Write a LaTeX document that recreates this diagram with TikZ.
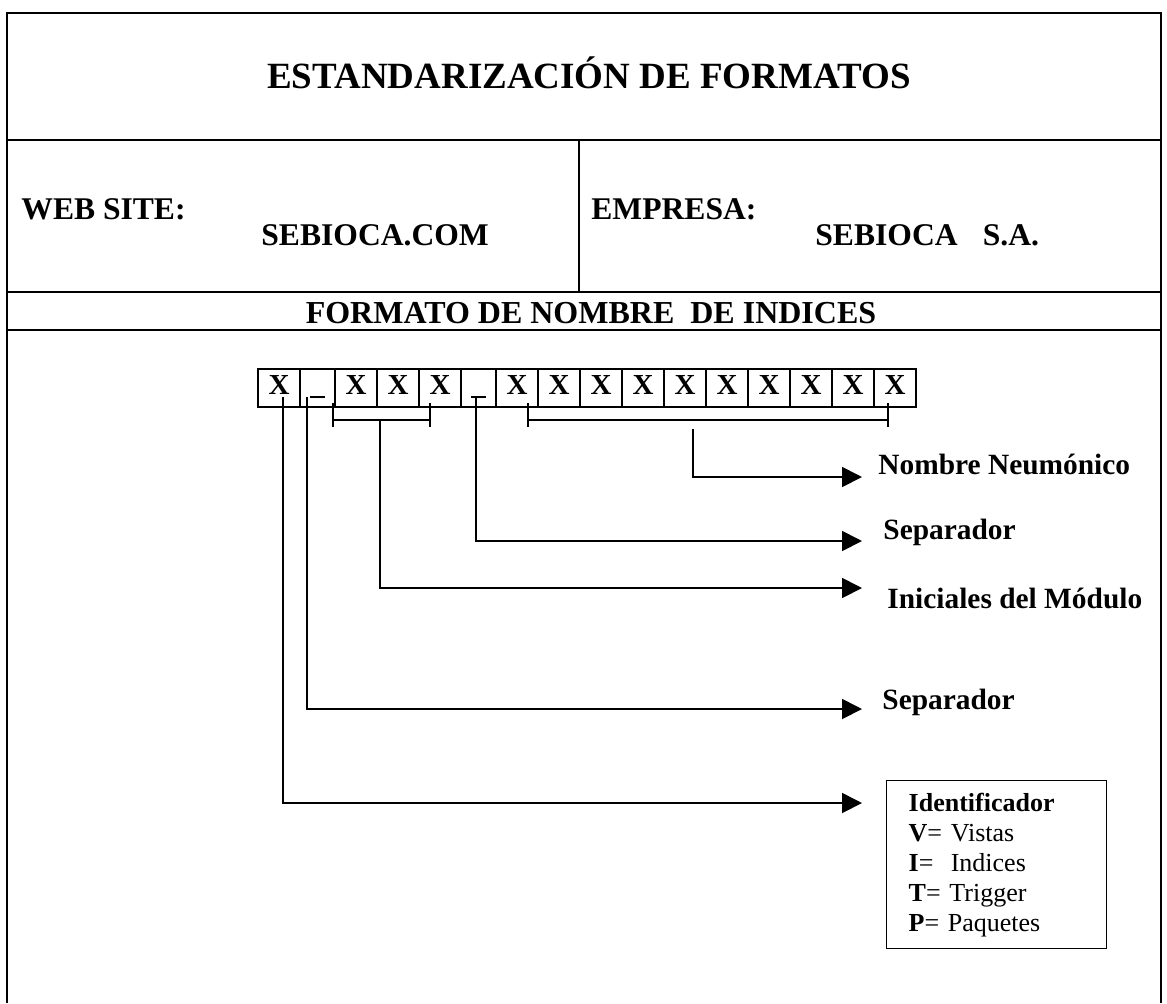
\documentclass[tikz,border=0pt]{standalone}
\usepackage{fontspec}
\setmainfont{Liberation Serif}
\usepackage{tikz}
\usetikzlibrary{positioning}
\usetikzlibrary{arrows.meta}
\tikzset {
  node distance={0pt},
  % lines of the form
  rule/.style={line width=0.7pt},
  % boxes of the index name
  slot/.style={draw, line width=0.6pt, minimum width=21pt, minimum height=19pt, inner sep=0pt, outer sep=0pt, text height=1.45ex, text depth=0pt, font=\fontsize{14.5}{16}\selectfont\bfseries},
  sepslot/.style={slot, minimum width=17.5pt},
  % brackets and connectors
  conn/.style={line width=0.9pt},
  arr/.style={conn, -{Triangle[length=10pt, width=10pt]}},
  % texts
  head/.style={inner sep=0pt, anchor=base, font=\fontsize{18.5}{22}\selectfont\bfseries},
  field/.style={inner sep=0pt, anchor=base west, font=\fontsize{15.8}{18}\selectfont\bfseries},
  band/.style={inner sep=0pt, anchor=base, font=\fontsize{16}{19}\selectfont\bfseries},
  part/.style={inner sep=0pt, anchor=base west, font=\fontsize{14.7}{17}\selectfont\bfseries},
  legend/.style={draw, line width=0.7pt, anchor=north west, text width=88pt, inner xsep=11pt, minimum height=84pt, align=left, font=\fontsize{13}{15}\selectfont},
}

\begin{document}
\begin{tikzpicture}[x=0.5pt, y=-0.5pt]
  \useasboundingbox (0,0) rectangle (1167,1003);

  % form
  \draw[rule] (7,1003) -- (7,13) -- (1161,13) -- (1161,1003);
  \draw[rule] (7,140) -- (1161,140);
  \draw[rule] (7,292) -- (1161,292);
  \draw[rule] (7,330) -- (1161,330);
  \draw[rule] (579,140) -- (579,292);

  \node[head] (title) at (589,88) {ESTANDARIZACIÓN DE FORMATOS};
  \node[field] (weblbl) at (21,219) {WEB SITE:};
  \node[field] (web) at (261,245) {SEBIOCA.COM};
  \node[field] (emplbl) at (591,219) {EMPRESA:};
  \node[field] (emp) at (815,245) {SEBIOCA\hspace{0.8em}S.A.};
  \node[band] (fmt) at (591,323) {FORMATO DE NOMBRE\ \ DE INDICES};

  % the index name
  \node[slot, anchor=west] (c1) at (258,388) {X};
  \node[sepslot] (c2) [right=of c1] {\_};
  \node[slot] (c3) [right=of c2] {X};
  \node[slot] (c4) [right=of c3] {X};
  \node[slot] (c5) [right=of c4] {X};
  \node[sepslot] (c6) [right=of c5] {\_};
  \node[slot] (c7) [right=of c6] {X};
  \node[slot] (c8) [right=of c7] {X};
  \node[slot] (c9) [right=of c8] {X};
  \node[slot] (c10) [right=of c9] {X};
  \node[slot] (c11) [right=of c10] {X};
  \node[slot] (c12) [right=of c11] {X};
  \node[slot] (c13) [right=of c12] {X};
  \node[slot] (c14) [right=of c13] {X};
  \node[slot] (c15) [right=of c14] {X};
  \node[slot] (c16) [right=of c15] {X};

  \draw[conn] (333,403) -- (333,427) (333,420) -- (430,420) (430,403) -- (430,427);
  \draw[conn] (528,403) -- (528,427) (528,420) -- (888,420) (888,403) -- (888,427);

  \coordinate (m1) at (380,420);
  \coordinate (m2) at (693,429);
  \coordinate (tnom) at (862,477);
  \coordinate (tsep1) at (862,541);
  \coordinate (tini) at (862,588);
  \coordinate (tsep2) at (862,709);
  \coordinate (tid) at (862,803);

  \draw[arr] (m2) |- (tnom);
  \draw[arr] ([xshift=-1.4pt, yshift=-4.5pt]c6.center) |- (tsep1);
  \draw[arr] (m1) |- (tini);
  \draw[arr] ([xshift=-5.4pt, yshift=-4.5pt]c2.center) |- (tsep2);
  \draw[arr] ([xshift=2pt, yshift=-4.5pt]c1.center) |- (tid);

  \node[part] (nom) at (878,474) {Nombre Neumónico};
  \node[part] (sep1) at (883,539) {Separador};
  \node[part] (ini) at (887,608) {Iniciales del Módulo};
  \node[part] (sep2) at (882,709) {Separador};
  \node[legend] (ident) at (886,780) {\textbf{Identificador}\\ \textbf{V}= Vistas\\ \textbf{I}=~ Indices\\ \textbf{T}= Trigger\\ \textbf{P}= Paquetes};
\end{tikzpicture}
\end{document}
